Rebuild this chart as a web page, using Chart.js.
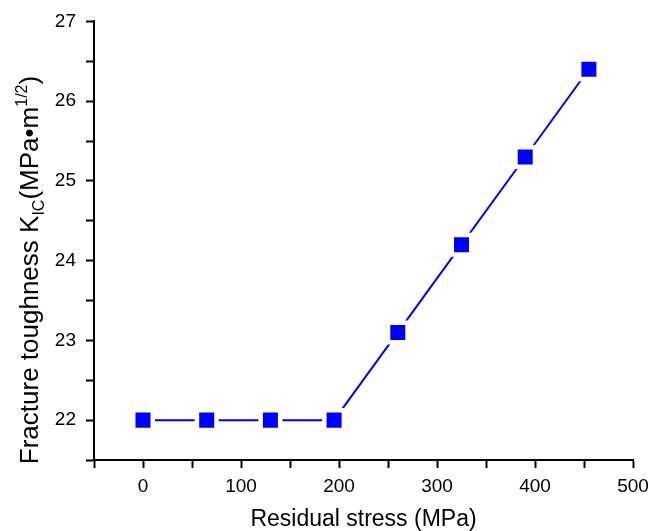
<!DOCTYPE html>
<html lang="en">
<head>
  <meta charset="UTF-8" />
  <title>Fracture toughness vs residual stress</title>
  <script src="https://cdn.jsdelivr.net/npm/chart.js"></script>
  <style>
    body {
      margin: 0;
      padding: 0;
      background: #ffffff;
    }

    #wrap {
      width: 665px;
      height: 531px;
    }
  </style>
</head>
<body>
  <div id="wrap">
    <canvas id="toughChart" width="665" height="531"></canvas>
  </div>

<script>
  // data
  const stress = [0, 65, 130, 195, 260, 325, 390, 455];
  const toughness = [22.0, 22.0, 22.0, 22.0, 23.1, 24.2, 25.3, 26.4];
  const xTickLabels = [0, 100, 200, 300, 400, 500];
  const yTickLabels = [22, 23, 24, 25, 26, 27];

  const fontFamily = '"Liberation Sans", Arial, sans-serif';

  // y title has a subscript and superscript, so it is drawn by hand
  const yTitlePlugin = {
    id: 'yTitle',
    afterDraw(chart) {
      const ctx = chart.ctx;
      const parts = [
        { text: 'Fracture toughness K', size: 26, shift: 0 },
        { text: 'IC', size: 16, shift: 6 },
        { text: '(MPa\u2022m', size: 26, shift: 0 },
        { text: '1/2', size: 16, shift: -11 },
        { text: ')', size: 26, shift: 0 }
      ];
      let total = 0;
      parts.forEach(p => {
        ctx.font = p.size + 'px ' + fontFamily;
        p.w = ctx.measureText(p.text).width;
        total += p.w;
      });
      ctx.save();
      ctx.translate(38, 270);
      ctx.rotate(-Math.PI / 2);
      ctx.fillStyle = '#000';
      ctx.textBaseline = 'alphabetic';
      ctx.textAlign = 'left';
      let x = -total / 2;
      parts.forEach(p => {
        ctx.font = p.size + 'px ' + fontFamily;
        ctx.fillText(p.text, x, p.shift);
        x += p.w;
      });
      ctx.restore();
    }
  };

  const ctx = document.getElementById('toughChart').getContext('2d');

  new Chart(ctx, {
    type: 'line',
    data: {
      datasets: [{
        data: stress.map((s, i) => ({ x: s, y: toughness[i] })),
        borderColor: '#0000ff',
        borderWidth: 2,
        backgroundColor: '#0000ff',
        pointStyle: 'rect',
        pointRadius: 13.8,
        pointHoverRadius: 13.8,
        pointBackgroundColor: '#0000ff',
        pointBorderColor: '#ffffff',
        pointBorderWidth: 4.5,
        tension: 0
      }]
    },
    options: {
      responsive: false,
      animation: false,
      layout: {
        padding: { left: 0, right: 32, top: 19, bottom: 0 }
      },
      plugins: {
        legend: { display: false },
        tooltip: { enabled: false }
      },
      scales: {
        x: {
          type: 'linear',
          min: -50,
          max: 500,
          afterFit: scale => { scale.height = 71; },
          border: { display: true, color: '#000', width: 2 },
          grid: {
            drawOnChartArea: false,
            tickLength: 8,
            tickColor: '#000',
            tickWidth: 2
          },
          ticks: {
            stepSize: 50,
            autoSkip: false,
            maxRotation: 0,
            padding: 7,
            color: '#000',
            font: { family: fontFamily, size: 19 },
            callback: v => xTickLabels.includes(v) ? String(v) : ''
          },
          title: {
            display: true,
            text: 'Residual stress (MPa)',
            color: '#000',
            font: { family: fontFamily, size: 23, lineHeight: 1 },
            padding: { top: 0, bottom: 0 }
          }
        },
        y: {
          type: 'linear',
          min: 21.5,
          max: 27,
          afterFit: scale => { scale.width = 94; },
          border: { display: true, color: '#000', width: 2 },
          grid: {
            drawOnChartArea: false,
            tickLength: 8,
            tickColor: '#000',
            tickWidth: 2
          },
          ticks: {
            stepSize: 0.5,
            autoSkip: false,
            padding: 10,
            color: '#000',
            font: { family: fontFamily, size: 19 },
            callback: v => yTickLabels.includes(v) ? String(v) : ''
          }
        }
      }
    },
    plugins: [yTitlePlugin]
  });
</script>
</body>
</html>
